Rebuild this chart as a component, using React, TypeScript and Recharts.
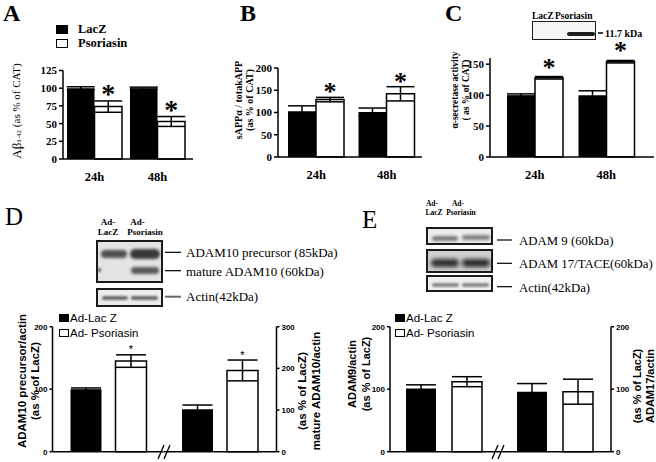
import { Bar, BarChart, ErrorBar, LabelList, Legend, XAxis, YAxis } from 'recharts'

const SERIF = '"Liberation Serif", "Times New Roman", serif'
const SANS = '"Liberation Sans", Arial, sans-serif'

// panels A-C: time course after infection
const TIMES = ['24h', '48h']
const SERIES = ['LacZ', 'Psoriasin']

const A_LACZ = [100, 100]
const A_LACZ_ERR = [2, 1.5]
const A_PSO = [74, 53]
const A_PSO_ERR = [8, 7]
const A_TICKS = [0, 25, 50, 75, 100, 125]

const B_LACZ = [103, 101]
const B_LACZ_ERR = [12, 9]
const B_PSO = [129, 142]
const B_PSO_ERR = [5, 16]
const B_TICKS = [0, 50, 100, 150, 200]

const C_LACZ = [100, 100]
const C_LACZ_ERR = [2, 7]
const C_PSO = [128, 154]
const C_PSO_ERR = [2, 2]
const C_TICKS = [0, 50, 100, 150]

// panels D-E: western blot quantification, two groups split by an axis break
const AD_SERIES = ['Ad-Lac Z', 'Ad- Psoriasin']

const D_GROUPS = ['ADAM10 precursor', 'mature ADAM10']
const D_LACZ = [100, 102]
const D_LACZ_ERR = [2, 10]
const D_PSO = [145, 195]
const D_PSO_ERR = [10, 25]
const D_LEFT_TICKS = [0, 100, 200]
const D_RIGHT_TICKS = [0, 100, 200, 300]

const E_GROUPS = ['ADAM9', 'ADAM17']
const E_LACZ = [101, 96]
const E_LACZ_ERR = [6, 13]
const E_PSO = [112, 96]
const E_PSO_ERR = [8, 20]
const E_TICKS = [0, 100, 200]

type Row = { cat: string; lacz: number; laczErr: number; pso: number; psoErr: number }

function buildRows(cats: string[], lacz: number[], laczErr: number[], pso: number[], psoErr: number[]): Row[] {
  return cats.map((cat, i) => ({ cat, lacz: lacz[i], laczErr: laczErr[i], pso: pso[i], psoErr: psoErr[i] }))
}

// asterisk sits over the error cap; px per unit comes from the bar itself
function starContent(errs: number[], fontSize: number, gap: number, family: string, weight: string) {
  return (props: any) => {
    const vb = props.viewBox ?? props
    const x = Number(vb.x)
    const y = Number(vb.y)
    const w = Number(vb.width)
    const h = Number(vb.height)
    const v = Number(props.value)
    const i = props.index ?? 0
    if (!v || !h) return null
    const capY = y - (errs[i] * h) / v
    return (
      <text x={x + w / 2} y={capY - gap} textAnchor="middle" fontSize={fontSize} fontFamily={family} fontWeight={weight} fill="#000">
        *
      </text>
    )
  }
}

function legendContent(square: [number, number], gap: number, rowH: number, font: React.CSSProperties) {
  return (props: any) => (
    <div>
      {(props.payload ?? []).map((e: any) => (
        <div key={e.value} style={{ display: 'flex', alignItems: 'center', height: rowH }}>
          <span
            style={{
              display: 'inline-block',
              width: square[0],
              height: square[1],
              background: e.color,
              border: '1px solid #000',
              boxSizing: 'border-box',
              marginRight: gap,
            }}
          />
          <span style={{ color: '#000', ...font }}>{e.value}</span>
        </div>
      ))}
    </div>
  )
}

const AXIS = { stroke: '#000', strokeWidth: 1.5 }

interface TimeProps {
  left: number
  top: number
  width: number
  height: number
  mt: number
  mr: number
  yWidth: number
  rows: Row[]
  domain: [number, number]
  ticks: number[]
  barSize: number
  pad: { left: number; right: number }
  star: { size: number; gap: number }
  legend?: boolean
}

function TimePanel(p: TimeProps) {
  return (
    <div style={{ position: 'absolute', left: p.left, top: p.top }}>
      <BarChart width={p.width} height={p.height} data={p.rows} margin={{ top: p.mt, right: p.mr, left: 0, bottom: 0 }} barGap={0}>
        <XAxis
          dataKey="cat"
          height={26}
          axisLine={AXIS}
          tickLine={false}
          tickMargin={7}
          padding={p.pad}
          tick={{ fontSize: 12.5, fontWeight: 'bold', fill: '#000', fontFamily: SERIF }}
        />
        <YAxis
          width={p.yWidth}
          domain={p.domain}
          ticks={p.ticks}
          interval={0}
          axisLine={AXIS}
          tickLine={AXIS}
          tickSize={4}
          tickMargin={2}
          tick={{ fontSize: 11, fontWeight: 'bold', fill: '#000', fontFamily: SERIF }}
        />
        {p.legend && (
          <Legend
            layout="vertical"
            align="center"
            verticalAlign="middle"
            itemSorter={(item: any) => SERIES.indexOf(item.value)}
            wrapperStyle={{ left: 56, top: 7, width: 'auto', height: 'auto' }}
            content={legendContent([12, 9], 10, 14.5, { fontFamily: SERIF, fontWeight: 'bold', fontSize: 12.5 })}
          />
        )}
        <Bar dataKey="lacz" name={SERIES[0]} fill="#000" barSize={p.barSize} isAnimationActive={false}>
          <ErrorBar dataKey="laczErr" width={14} stroke="#000" strokeWidth={1.5} />
        </Bar>
        <Bar dataKey="pso" name={SERIES[1]} fill="#fff" stroke="#000" strokeWidth={1.5} barSize={p.barSize} isAnimationActive={false}>
          <ErrorBar dataKey="psoErr" width={14} stroke="#000" strokeWidth={1.5} />
          <LabelList
            dataKey="pso"
            content={starContent(p.rows.map((r) => r.psoErr), p.star.size, p.star.gap, SERIF, 'bold')}
          />
        </Bar>
      </BarChart>
    </div>
  )
}

interface SplitProps {
  left: number
  width: number
  side: 'left' | 'right'
  yWidth: number
  row: Row
  domain: [number, number]
  ticks: number[]
  barSize: number
  barGap: number
  star?: boolean
  legendLeft?: number
}

function SplitPanel(p: SplitProps) {
  return (
    <div style={{ position: 'absolute', left: p.left, top: 300 }}>
      <BarChart width={p.width} height={161.7} data={[p.row]} margin={{ top: 26.7, right: 0, left: 0, bottom: 0 }} barGap={p.barGap}>
        <XAxis dataKey="cat" height={10} tick={false} tickLine={false} axisLine={AXIS} />
        <YAxis
          orientation={p.side}
          width={p.yWidth}
          domain={p.domain}
          ticks={p.ticks}
          interval={0}
          axisLine={AXIS}
          tickLine={AXIS}
          tickSize={3}
          tickMargin={2}
          tick={{ fontSize: 8, fontWeight: 'bold', fill: '#000', fontFamily: SANS }}
        />
        {p.legendLeft !== undefined && (
          <Legend
            layout="vertical"
            align="center"
            verticalAlign="middle"
            itemSorter={(item: any) => AD_SERIES.indexOf(item.value)}
            wrapperStyle={{ left: p.legendLeft, top: 10.5, width: 'auto', height: 'auto' }}
            content={legendContent([10, 8], 1, 15, { fontFamily: SANS, fontSize: 11.5 })}
          />
        )}
        <Bar dataKey="lacz" name={AD_SERIES[0]} fill="#000" barSize={p.barSize} isAnimationActive={false}>
          <ErrorBar dataKey="laczErr" width={15} stroke="#000" strokeWidth={1.5} />
        </Bar>
        <Bar dataKey="pso" name={AD_SERIES[1]} fill="#fff" stroke="#000" strokeWidth={1.5} barSize={p.barSize} isAnimationActive={false}>
          <ErrorBar dataKey="psoErr" width={15} stroke="#000" strokeWidth={1.5} />
          {p.star && <LabelList dataKey="pso" content={starContent([p.row.psoErr], 11, 1.5, SANS, 'normal')} />}
        </Bar>
      </BarChart>
    </div>
  )
}

type Band = { x: number; y: number; w: number; h: number; c: string; b: number }

function Blot({ left, top, width, height, border, bg, bands }: { left: number; top: number; width: number; height: number; border: number; bg: string; bands: Band[] }) {
  return (
    <div
      style={{
        position: 'absolute',
        left,
        top,
        width,
        height,
        border: `${border}px solid #1a1a1a`,
        boxSizing: 'border-box',
        background: bg,
        overflow: 'hidden',
      }}
    >
      {bands.map((b, i) => (
        <div
          key={i}
          style={{
            position: 'absolute',
            left: b.x,
            top: b.y,
            width: b.w,
            height: b.h,
            background: b.c,
            borderRadius: b.h / 2,
            filter: `blur(${b.b}px)`,
          }}
        />
      ))}
    </div>
  )
}

function VLabel({ x, y, text, size, weight, family }: { x: number; y: number; text: React.ReactNode; size: number; weight: string; family: string }) {
  return (
    <text
      x={x}
      y={y}
      transform={`rotate(-90 ${x} ${y})`}
      textAnchor="middle"
      dominantBaseline="central"
      fontSize={size}
      fontWeight={weight}
      fontFamily={family}
      fill="#000"
    >
      {text}
    </text>
  )
}

export default function App() {
  const aRows = buildRows(TIMES, A_LACZ, A_LACZ_ERR, A_PSO, A_PSO_ERR)
  const bRows = buildRows(TIMES, B_LACZ, B_LACZ_ERR, B_PSO, B_PSO_ERR)
  const cRows = buildRows(TIMES, C_LACZ, C_LACZ_ERR, C_PSO, C_PSO_ERR)
  const dRows = buildRows(D_GROUPS, D_LACZ, D_LACZ_ERR, D_PSO, D_PSO_ERR)
  const eRows = buildRows(E_GROUPS, E_LACZ, E_LACZ_ERR, E_PSO, E_PSO_ERR)

  return (
    <div style={{ position: 'absolute', left: 0, top: 0, width: 656, height: 462, background: '#fff', overflow: 'hidden' }}>
      <TimePanel
        left={0} top={15} width={205} height={170} mt={55.5} mr={12} yWidth={63}
        rows={aRows} domain={[0, 125]} ticks={A_TICKS} barSize={27.5}
        pad={{ left: 0, right: 4 }} star={{ size: 28, gap: -2 }} legend
      />
      <TimePanel
        left={215} top={55} width={215} height={128} mt={13} mr={8} yWidth={63}
        rows={bRows} domain={[0, 200]} ticks={B_TICKS} barSize={28}
        pad={{ left: 3, right: 0 }} star={{ size: 26, gap: -3 }}
      />
      <TimePanel
        left={430} top={30} width={226} height={153} mt={28} mr={2} yWidth={60}
        rows={cRows} domain={[0, 160]} ticks={C_TICKS} barSize={28}
        pad={{ left: 9, right: 12 }} star={{ size: 26, gap: 1 }}
      />

      <SplitPanel left={0} width={163.5} side="left" yWidth={52.5} row={dRows[0]} domain={[0, 200]} ticks={D_LEFT_TICKS} barSize={31} barGap={14} star legendLeft={59} />
      <SplitPanel left={163.5} width={152.5} side="right" yWidth={40} row={dRows[1]} domain={[0, 300]} ticks={D_RIGHT_TICKS} barSize={31} barGap={14} star />
      <SplitPanel left={340} width={158} side="left" yWidth={50} row={eRows[0]} domain={[0, 200]} ticks={E_TICKS} barSize={30} barGap={16} legendLeft={55} />
      <SplitPanel left={498} width={163} side="right" yWidth={50} row={eRows[1]} domain={[0, 200]} ticks={E_TICKS} barSize={30} barGap={16} />

      <Blot left={532} top={21} width={64} height={19} border={1} bg="#f6f6f6" bands={[{ x: 34, y: 10, w: 28, h: 4, c: '#1e1e1e', b: 0.7 }]} />
      <Blot
        left={96} top={239.5} width={67} height={43.5} border={2} bg="#e4e4e4"
        bands={[
          { x: 3, y: 8, w: 26, h: 8, c: '#505050', b: 1.5 },
          { x: 32, y: 7, w: 30, h: 10, c: '#383838', b: 1.8 },
          { x: 33, y: 25, w: 28, h: 7, c: '#5a5a5a', b: 1.5 },
          { x: 0, y: 26, w: 3, h: 4, c: '#555', b: 0.8 },
        ]}
      />
      <Blot
        left={96} top={287.5} width={67} height={19.5} border={2} bg="#ececec"
        bands={[
          { x: 4, y: 6, w: 26, h: 4, c: '#6a6a6a', b: 1 },
          { x: 33, y: 6, w: 27, h: 4, c: '#6a6a6a', b: 1 },
        ]}
      />
      <Blot
        left={426} top={226.5} width={67} height={18.5} border={2} bg="#ececec"
        bands={[
          { x: 4, y: 7, w: 26, h: 5, c: '#7a7a7a', b: 1.5 },
          { x: 34, y: 6, w: 28, h: 5, c: '#808080', b: 1.5 },
        ]}
      />
      <Blot
        left={426} top={248.5} width={67} height={24} border={2} bg="#cfcfcf"
        bands={[
          { x: 3, y: 8, w: 28, h: 8, c: '#2e2e2e', b: 2 },
          { x: 34, y: 8, w: 28, h: 8, c: '#2a2a2a', b: 2 },
        ]}
      />
      <Blot
        left={426} top={275} width={67} height={17} border={2} bg="#efefef"
        bands={[
          { x: 4, y: 6, w: 27, h: 4, c: '#8a8a8a', b: 1 },
          { x: 34, y: 6, w: 27, h: 4, c: '#8a8a8a', b: 1 },
        ]}
      />

      <svg width={656} height={462} style={{ position: 'absolute', left: 0, top: 0, pointerEvents: 'none' }}>
        <g fontFamily={SERIF} fill="#000">
          <text x={3} y={21} fontSize={24} fontWeight="bold">A</text>
          <text x={240} y={21} fontSize={24} fontWeight="bold">B</text>
          <text x={445} y={21} fontSize={24} fontWeight="bold">C</text>
          <text x={5} y={225} fontSize={25}>D</text>
          <text x={362} y={228} fontSize={25}>E</text>

          <g fontSize={9.5} fontWeight="bold">
            <text x={532} y={19}>LacZ</text>
            <text x={555} y={19}>Psoriasin</text>
          </g>
          <line x1={598} y1={33} x2={603} y2={33} stroke="#000" strokeWidth={1.5} />
          <text x={605} y={37} fontSize={10} fontWeight="bold">11.7 kDa</text>

          <g fontSize={9} fontWeight="bold" textAnchor="middle">
            <text x={108} y={225}>Ad-</text>
            <text x={108} y={235}>LacZ</text>
            <text x={137.5} y={225}>Ad-</text>
            <text x={145} y={235}>Psoriasin</text>
          </g>
          <g fontSize={7.5} fontWeight="bold" textAnchor="middle">
            <text x={432} y={206}>Ad-</text>
            <text x={434} y={215}>LacZ</text>
            <text x={458} y={206}>Ad-</text>
            <text x={461} y={215}>Psoriasin</text>
          </g>

          <g stroke="#000" strokeWidth={1.2}>
            <line x1={165} y1={252.3} x2={181} y2={252.3} />
            <line x1={165} y1={270.7} x2={181} y2={270.7} />
            <line x1={165} y1={296.7} x2={181} y2={296.7} stroke="#666" strokeWidth={2} />
            <line x1={497} y1={240} x2={512} y2={240} />
            <line x1={497} y1={263.3} x2={512} y2={263.3} />
            <line x1={497} y1={286.7} x2={512} y2={286.7} />
          </g>
          <g fontSize={13}>
            <text x={186} y={257}>ADAM10 precursor (85kDa)</text>
            <text x={186} y={275.5}>mature ADAM10 (60kDa)</text>
            <text x={186} y={301}>Actin(42kDa)</text>
          </g>
          <g fontSize={12.8}>
            <text x={519} y={245}>ADAM 9 (60kDa)</text>
            <text x={519} y={268}>ADAM 17/TACE(60kDa)</text>
            <text x={519} y={291.5}>Actin(42kDa)</text>
          </g>
        </g>

        <VLabel
          x={16} y={111} size={11} weight="normal" family={SERIF}
          text={
            <>
              <tspan fontSize={13}>Aβ</tspan>
              <tspan fontSize={7} dy={3}>1-42</tspan>
              <tspan dy={-3}> (as % of CAT)</tspan>
            </>
          }
        />
        <VLabel x={238.5} y={100} size={10} weight="bold" family={SERIF} text="sAPPα / totakAPP" />
        <VLabel x={249.5} y={100} size={10} weight="bold" family={SERIF} text="(as % of CAT)" />
        <VLabel x={455} y={90} size={9.5} weight="bold" family={SERIF} text="α-secretase activity" />
        <VLabel x={465.5} y={90} size={9.5} weight="bold" family={SERIF} text="( as % of CAT)" />

        <VLabel x={21.7} y={381} size={11.5} weight="bold" family={SANS} text="ADAM10 precursor/actin" />
        <VLabel x={35} y={381} size={11.5} weight="bold" family={SANS} text="(as % of LacZ)" />
        <VLabel x={302} y={391} size={11.5} weight="bold" family={SANS} text="(as % of LacZ)" />
        <VLabel x={316} y={391} size={11.5} weight="bold" family={SANS} text="mature ADAM10/actin" />
        <VLabel x={352} y={374} size={11} weight="bold" family={SANS} text="ADAM9/actin" />
        <VLabel x={366} y={374} size={11} weight="bold" family={SANS} text="(as % of LacZ)" />
        <VLabel x={637} y={386} size={11} weight="bold" family={SANS} text="(as % of LacZ)" />
        <VLabel x={650} y={386} size={11} weight="bold" family={SANS} text="ADAM17/actin" />

        <g stroke="#000" strokeWidth={1.3}>
          <line x1={158} y1={459} x2={164} y2={445} />
          <line x1={164} y1={459} x2={170} y2={445} />
          <line x1={492} y1={459} x2={498} y2={445} />
          <line x1={498} y1={459} x2={504} y2={445} />
        </g>
      </svg>
    </div>
  )
}
